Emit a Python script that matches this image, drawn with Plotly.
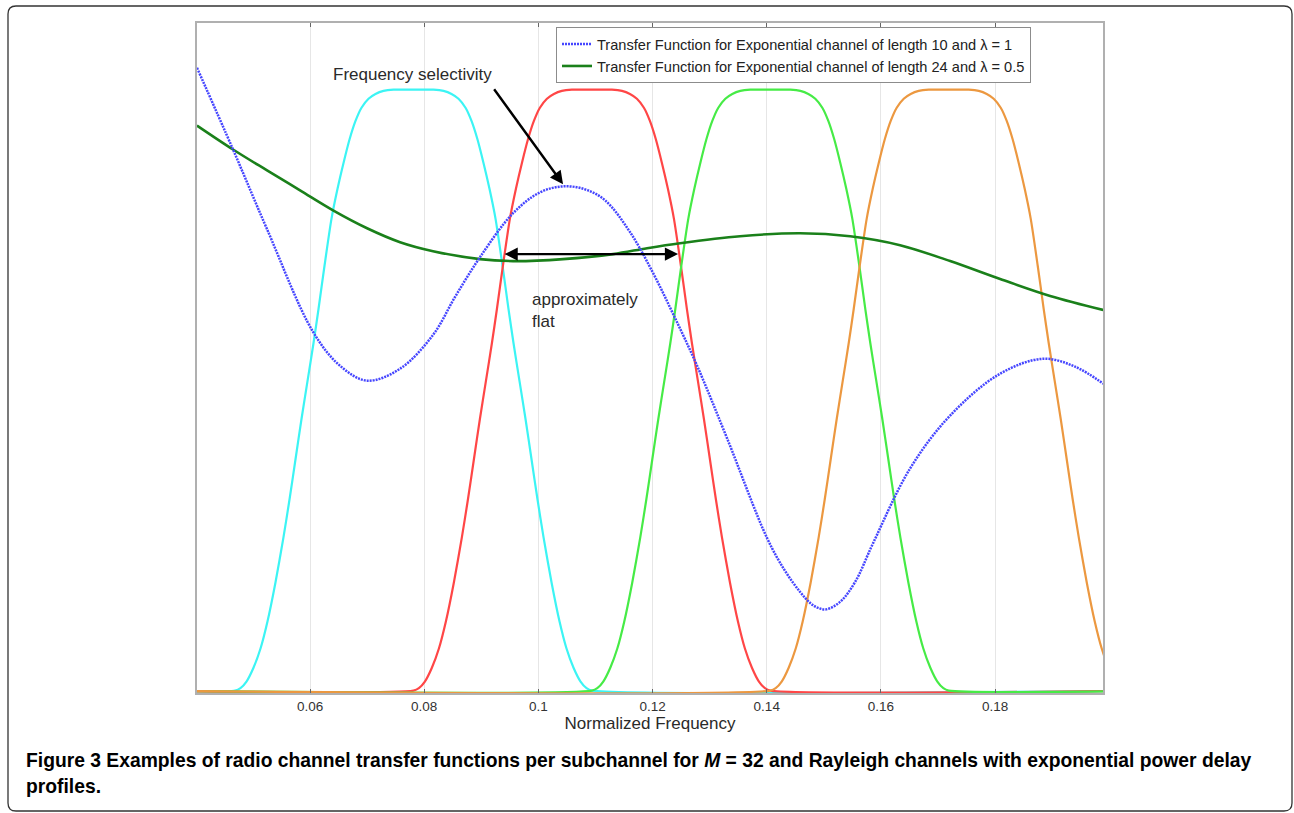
import plotly.graph_objects as go

# ---- data -------------------------------------------------------------
# Axis extent (normalized frequency) and tick labels
freq_min, freq_max = 0.0402, 0.1989
tick_vals = [0.06, 0.08, 0.10, 0.12, 0.14, 0.16, 0.18]
tick_text = ["0.06", "0.08", "0.1", "0.12", "0.14", "0.16", "0.18"]

# Subchannel filter: one-sided magnitude response vs. offset from centre
pulse_offset = [0.0, 0.00350, 0.00526, 0.00666, 0.00788, 0.00911, 0.01016,
                0.01121, 0.01226, 0.01331, 0.01437, 0.01559, 0.01664,
                0.01752, 0.01857, 0.01962, 0.02067, 0.02172, 0.02278,
                0.02418, 0.02558, 0.02680, 0.02803, 0.02926, 0.03031,
                0.03125]
pulse_gain = [1.0, 1.0, 0.998, 0.993, 0.985, 0.97, 0.948, 0.917, 0.878,
              0.835, 0.785, 0.707, 0.635, 0.578, 0.515, 0.452, 0.385, 0.318,
              0.255, 0.18, 0.115, 0.07, 0.038, 0.015, 0.004, 0.0]
subchannel_centres = [0.078125, 0.109375, 0.140625, 0.171875]
subchannel_colours = ["rgb(60,244,244)", "rgb(255,70,70)",
                      "rgb(70,235,70)", "rgb(236,152,64)"]

# Channel of length 10, lambda = 1
ch10_freq = [0.04020, 0.04651, 0.05247, 0.06053, 0.06526, 0.06999, 0.07577,
             0.08155, 0.08540, 0.08978, 0.09556, 0.10029, 0.10432, 0.10817,
             0.11168, 0.11606, 0.12009, 0.12359, 0.12780, 0.13306, 0.14006,
             0.14322, 0.14584, 0.14760, 0.14900, 0.15040, 0.15285, 0.15548,
             0.15863, 0.16512, 0.17212, 0.18088, 0.18842, 0.19402, 0.19893]
ch10_gain = [1.0365, 0.9005, 0.7678, 0.597, 0.5406, 0.5158, 0.5357, 0.5920,
             0.6551, 0.7214, 0.7944, 0.8292, 0.8391, 0.8342, 0.8159, 0.7629,
             0.6949, 0.6269, 0.5406, 0.4196, 0.2537, 0.1990, 0.1642, 0.1459,
             0.1376, 0.1352, 0.1476, 0.1808, 0.2454, 0.3698, 0.4577, 0.5274,
             0.5522, 0.539, 0.5108]

# Channel of length 24, lambda = 0.5
ch24_freq = [0.04020, 0.04651, 0.05247, 0.05825, 0.06403, 0.06999, 0.07577,
             0.08155, 0.08978, 0.09556, 0.10432, 0.11308, 0.11904, 0.12482,
             0.13533, 0.14584, 0.15460, 0.16336, 0.17212, 0.18088, 0.18964,
             0.19893]
ch24_gain = [0.9403, 0.9005, 0.8657, 0.8325, 0.7993, 0.7695, 0.7463, 0.7313,
             0.7181, 0.7148, 0.7181, 0.7264, 0.7363, 0.7446, 0.7562, 0.7612,
             0.7562, 0.7413, 0.7148, 0.6849, 0.6567, 0.6335]

# ---- layout geometry (pixels) ----------------------------------------
W, H = 1294, 813
PL, PR, PT, PB = 197, 1103, 23, 693


def px_to_paper(x, y):
    return (x - PL) / (PR - PL), (PB - y) / (PB - PT)


fig = go.Figure()

# Subchannel filters (zero outside their band)
offsets = [-o for o in reversed(pulse_offset)] + pulse_offset[1:]
gains = list(reversed(pulse_gain)) + pulse_gain[1:]
for c, col in zip(subchannel_centres, subchannel_colours):
    xs = [freq_min - 0.01] + [c + o for o in offsets] + [freq_max + 0.01]
    ys = [0.0] + gains + [0.0]
    fig.add_trace(go.Scatter(x=xs, y=ys, mode="lines", showlegend=False,
                             line=dict(color=col, width=2.2, shape="spline",
                                       smoothing=0.7),
                             hoverinfo="skip"))

fig.add_trace(go.Scatter(
    x=ch24_freq, y=ch24_gain, mode="lines", legendrank=2,
    name="Transfer Function for Exponential channel of length 24 and \u03bb = 0.5",
    line=dict(color="rgb(26,128,26)", width=2.6, shape="spline", smoothing=1.0)))

fig.add_trace(go.Scatter(
    x=ch10_freq, y=ch10_gain, mode="lines", legendrank=1,
    name="Transfer Function for Exponential channel of length 10 and \u03bb = 1",
    line=dict(color="rgb(70,70,255)", width=2.5, dash="2px,1px",
              shape="spline", smoothing=1.0)))

text_font = dict(family="Liberation Sans, Arial, sans-serif", size=17,
                 color="#2a2a2a")

annotations = [
    dict(x=0.10432, y=0.8425, ax=0.09206, ay=1.0033, xref="x", yref="y",
         axref="x", ayref="y", text="", showarrow=True, arrowhead=2,
         arrowsize=1.1, arrowwidth=2.4, arrowcolor="black"),
    dict(x=0.12447, y=0.7264, ax=0.09381, ay=0.7264, xref="x", yref="y",
         axref="x", ayref="y", text="", showarrow=True, arrowhead=2,
         startarrowhead=2, arrowside="end+start", arrowsize=1.1,
         startarrowsize=1.1, arrowwidth=2.4, arrowcolor="black"),
    dict(x=0.07787, y=1.0249, xref="x", yref="y", text="Frequency selectivity",
         showarrow=False, font=text_font, xanchor="center", yanchor="middle"),
    dict(x=0.09854, y=0.6700, xref="x", yref="y",
         text="approximately<br>flat", showarrow=False, font=text_font,
         xanchor="left", yanchor="top", align="left"),
]

cap_font = dict(family="Liberation Sans, Arial, sans-serif", size=19.3,
                color="black")
cx, cy1 = px_to_paper(24, 760)
_, cy2 = px_to_paper(24, 786)
annotations.append(dict(
    x=cx, y=cy1, xref="paper", yref="paper", xanchor="left",
    yanchor="middle", showarrow=False, font=cap_font,
    text="<b>Figure 3 Examples of radio channel transfer functions per "
         "subchannel for <i>M</i> = 32 and Rayleigh channels with "
         "exponential power delay</b>"))
annotations.append(dict(
    x=cx, y=cy2, xref="paper", yref="paper", xanchor="left",
    yanchor="middle", showarrow=False, font=cap_font,
    text="<b>profiles.</b>"))

# Rounded outer frame
fx0, fy0, fx1, fy1, r = 8, 6, 1292, 811, 8
pts = [("M", fx0 + r, fy0), ("L", fx1 - r, fy0), ("Q", fx1, fy0, fx1, fy0 + r),
       ("L", fx1, fy1 - r), ("Q", fx1, fy1, fx1 - r, fy1), ("L", fx0 + r, fy1),
       ("Q", fx0, fy1, fx0, fy1 - r), ("L", fx0, fy0 + r),
       ("Q", fx0, fy0, fx0 + r, fy0)]
path = ""
for p in pts:
    cmd, coords = p[0], p[1:]
    pairs = []
    for i in range(0, len(coords), 2):
        u, v = px_to_paper(coords[i], coords[i + 1])
        pairs.append(f"{u:.5f},{v:.5f}")
    path += cmd + " " + " ".join(pairs) + " "
path += "Z"

fig.update_layout(
    width=W, height=H,
    margin=dict(l=PL, r=W - PR, t=PT, b=H - PB, pad=0),
    paper_bgcolor="white", plot_bgcolor="white",
    font=dict(family="Liberation Sans, Arial, sans-serif", color="#2a2a2a"),
    showlegend=True,
    legend=dict(x=px_to_paper(556, 0)[0], y=px_to_paper(0, 27)[1],
                xanchor="left", yanchor="top", bgcolor="white",
                bordercolor="#8c8c8c", borderwidth=1,
                font=dict(size=14.6, color="#222"),
                tracegroupgap=0, itemwidth=30),
    annotations=annotations,
    shapes=[dict(type="path", xref="paper", yref="paper", path=path,
                 line=dict(color="#333", width=1.3), layer="above")],
    xaxis=dict(range=[freq_min, freq_max], tickvals=tick_vals,
               ticktext=tick_text, ticks="inside", ticklen=4,
               tickcolor="#666", showgrid=True, gridcolor="#e6e6e6",
               gridwidth=1, showline=True, linecolor="#b0b0b0", linewidth=2,
               mirror="ticks", zeroline=False,
               tickfont=dict(size=13.5, color="#333"),
               title=dict(text="Normalized Frequency", standoff=4,
                          font=dict(size=17, color="#2a2a2a"))),
    yaxis=dict(range=[-0.004, 1.111], showticklabels=False, ticks="",
               showgrid=False, zeroline=False, showline=True,
               linecolor="#b0b0b0", linewidth=2, mirror=True),
)

fig.write_html("out.html")
